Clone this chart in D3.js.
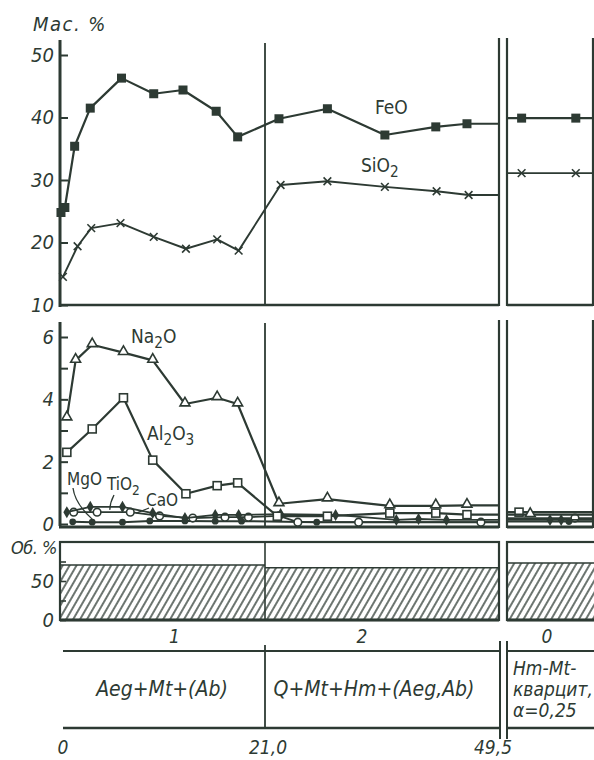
<!DOCTYPE html>
<html>
<head>
<meta charset="utf-8">
<script src="https://cdn.jsdelivr.net/npm/d3@7"></script>
<style>
  html, body { margin: 0; padding: 0; background: #ffffff; }
  svg { display: block; }
  text { font-family: "Liberation Sans Narrow", "DejaVu Sans Condensed", "Liberation Sans", sans-serif; fill: #2d3a33; }
  .it { font-style: italic; }
</style>
</head>
<body>
<script>
// ---- Zones 1–2: sample depth (m) and oxide content (mass %) ----
const feoDepth  = [0.1, 0.5, 1.5, 3.1, 6.3, 9.6, 12.6, 16.0, 18.2, 22.7, 28.6, 35.6, 41.8, 45.6];
const feoValue  = [24.8, 25.6, 35.4, 41.5, 46.3, 43.8, 44.4, 41.0, 36.9, 39.8, 41.4, 37.2, 38.5, 39.0];
const sio2Depth = [0.3, 1.8, 3.2, 6.2, 9.6, 12.9, 16.1, 18.3, 22.9, 28.6, 35.6, 41.9, 45.8];
const sio2Value = [14.5, 19.4, 22.3, 23.1, 20.9, 19.0, 20.5, 18.7, 29.2, 29.8, 28.9, 28.2, 27.6];

const na2oDepth  = [0.7, 1.6, 3.3, 6.5, 9.5, 12.8, 16.1, 18.2, 22.7, 28.6, 36.2, 41.8, 45.6];
const na2oValue  = [3.4, 5.25, 5.75, 5.5, 5.25, 3.85, 4.05, 3.85, 0.65, 0.8, 0.58, 0.58, 0.6];
const al2o3Depth = [0.7, 3.3, 6.5, 9.5, 12.9, 16.1, 18.2, 22.5, 28.6, 36.2, 41.8, 45.6];
const al2o3Value = [2.3, 3.05, 4.05, 2.05, 0.97, 1.23, 1.32, 0.25, 0.25, 0.35, 0.35, 0.3];
const tio2Depth  = [0.7, 3.1, 6.4, 9.5, 12.8, 15.9, 18.3, 22.9, 29.6, 37.0, 39.7, 43.1];
const tio2Value  = [0.38, 0.55, 0.55, 0.35, 0.19, 0.29, 0.29, 0.32, 0.29, 0.13, 0.16, 0.13];
const caoDepth   = [1.4, 3.8, 7.2, 10.2, 13.6, 16.9, 19.3, 22.7, 25.0, 32.4, 47.3];
const caoValue   = [0.38, 0.38, 0.38, 0.26, 0.19, 0.22, 0.22, 0.26, 0.06, 0.06, 0.06];
const mgoDepth   = [1.3, 3.3, 6.4, 9.2, 12.8, 15.9, 18.6, 27.3];
const mgoValue   = [0.07, 0.06, 0.06, 0.1, 0.1, 0.09, 0.09, 0.06];

// ---- Zone 0 (Hm-Mt quartzite): position along the column (0–10) ----
const feo3Pos = [1.7, 8.0],  feo3Value = [39.9, 39.9];
const sio23Pos = [1.7, 8.0], sio23Value = [31.1, 31.1];
const al2o33Pos = [1.4],      al2o33Value = [0.38];
const na2o3Pos = [2.7],       na2o3Value = [0.3];
const tio23Pos = [5.0, 6.3],  tio23Value = [0.13, 0.13];
const mgo3Pos = [7.2],        mgo3Value = [0.08];
const cao3Pos = [7.9],        cao3Value = [0.19];

// ---- Ore mineral volume share (vol. %) per zone ----
const zoneNames  = ["1", "2", "0"];
const zoneVolume = [70.5, 67, 73];
const zoneMinerals = ["Aeg+Mt+(Ab)", "Q+Mt+Hm+(Aeg,Ab)"];
const zone0Lines = ["Hm-Mt-", "кварцит,", "α=0,25"];
const depthTicks = [0, 21.0, 49.5];
const depthTickLabels = ["0", "21,0", "49,5"];

const topTicks = [10, 20, 30, 40, 50];
const midTicks = [0, 1, 2, 3, 4, 5, 6];
const barTicks = [0, 25, 50, 75];

const ink = "#2d3a33";
const W = 594, H = 760;

const svg = d3.select("body").append("svg").attr("width", W).attr("height", H);
svg.append("rect").attr("width", W).attr("height", H).attr("fill", "#ffffff");

// scales
const xDepth = d3.scaleLinear().domain([0, 21, 49.5]).range([60, 265, 499]);
const x3 = d3.scaleLinear().domain([0, 10]).range([507, 593]);
const yTop = d3.scaleLinear().domain([10, 50]).range([305, 55]);
const yMid = d3.scaleLinear().domain([0, 6]).range([524, 337]);
const yBar = d3.scaleLinear().domain([0, 100]).range([620, 542]);

const X0 = xDepth(0), X21 = xDepth(21), X49 = xDepth(49.5), X3a = x3(0), X3b = x3(10);

function vline(x, y1, y2, w) {
  svg.append("line").attr("x1", x).attr("x2", x).attr("y1", y1).attr("y2", y2)
    .attr("stroke", ink).attr("stroke-width", w || 2);
}
function hline(x1, x2, y, w) {
  svg.append("line").attr("x1", x1).attr("x2", x2).attr("y1", y).attr("y2", y)
    .attr("stroke", ink).attr("stroke-width", w || 2);
}

// ---------- axes ----------
function leftAxis(scale, ticks, fmt, top) {
  const g = svg.append("g").attr("transform", `translate(${X0},0)`)
    .call(d3.axisLeft(scale).tickValues(ticks).tickSizeInner(-8).tickSizeOuter(0).tickPadding(6).tickFormat(fmt));
  g.select(".domain").remove();
  g.selectAll(".tick line").attr("stroke", ink).attr("stroke-width", 2);
  g.selectAll(".tick text").attr("class", "it").attr("font-size", 20).attr("fill", ink)
    .attr("font-family", null);
  vline(X0, top, scale.range()[0] + 2, 3);
  return g;
}
leftAxis(yTop, topTicks, d => d, 40);
leftAxis(yMid, midTicks, d => (d % 2 === 0 ? d : ""), 322);

// top panel frame
hline(X0 - 1, X49, yTop(10), 2.6);
hline(X3a, X3b, yTop(10), 2.6);
vline(X21, 43, yTop(10), 1.8);
vline(X49, 38, yTop(10) + 1, 2.2);
vline(X3a, 38, yTop(10) + 1, 2.2);
vline(X3b, 38, yTop(10) + 1, 2.2);

// middle panel frame
hline(X0 - 1, X49, 527, 3);
hline(X3a, X3b, 527, 3);
vline(X21, 323, 527, 1.8);
vline(X49, 320, 528, 2.2);
vline(X3a, 320, 528, 2.2);
vline(X3b, 320, 528, 2.2);

// ---------- series ----------
const zip = (a, b) => a.map((d, i) => [d, b[i]]);

function series(xs, ys, xScale, yScale, marker, opts) {
  const pts = zip(xs, ys);
  let linePts;
  if (opts.zone3) linePts = [[0, ys[0]], ...pts, [10, ys[ys.length - 1]]];
  else linePts = [...pts, [49.5, ys[ys.length - 1]]];
  svg.append("path")
    .attr("d", d3.line().x(d => xScale(d[0])).y(d => yScale(d[1]))(linePts))
    .attr("fill", "none").attr("stroke", ink).attr("stroke-width", opts.lw || 2.2)
    .attr("stroke-linejoin", "round");
  const m = svg.append("g");
  pts.forEach(p => marker(m, xScale(p[0]), yScale(p[1])));
}

const mk = {
  fsq: (g, x, y) => g.append("rect").attr("x", x - 4.5).attr("y", y - 4.5).attr("width", 9).attr("height", 9)
    .attr("fill", ink),
  cross: (g, x, y) => g.append("path").attr("transform", `translate(${x},${y})`)
    .attr("d", d3.symbol().type(d3.symbolTimes).size(40)()).attr("stroke", ink).attr("stroke-width", 1.6).attr("fill", "none"),
  tri: (g, x, y) => g.append("path").attr("transform", `translate(${x},${y - 1})`)
    .attr("d", d3.symbol().type(d3.symbolTriangle2).size(70)()).attr("stroke", ink).attr("stroke-width", 1.6).attr("fill", "#fff"),
  osq: (g, x, y) => g.append("rect").attr("x", x - 4).attr("y", y - 4).attr("width", 8).attr("height", 8)
    .attr("fill", "#fff").attr("stroke", ink).attr("stroke-width", 1.6),
  dia: (g, x, y) => g.append("path").attr("transform", `translate(${x},${y})`)
    .attr("d", d3.symbol().type(d3.symbolDiamond).size(42)()).attr("fill", ink),
  ocir: (g, x, y) => g.append("circle").attr("cx", x).attr("cy", y).attr("r", 3.8)
    .attr("fill", "#fff").attr("stroke", ink).attr("stroke-width", 1.6),
  fcir: (g, x, y) => g.append("circle").attr("cx", x).attr("cy", y).attr("r", 3.4).attr("fill", ink)
};

// top panel: FeO, SiO2
series(feoDepth, feoValue, xDepth, yTop, mk.fsq, {});
series(sio2Depth, sio2Value, xDepth, yTop, mk.cross, {lw: 1.9});
series(feo3Pos, feo3Value, x3, yTop, mk.fsq, {zone3: true});
series(sio23Pos, sio23Value, x3, yTop, mk.cross, {zone3: true, lw: 1.9});

// middle panel
series(mgoDepth, mgoValue, xDepth, yMid, mk.fcir, {lw: 2});
series(caoDepth, caoValue, xDepth, yMid, mk.ocir, {lw: 1.8});
series(tio2Depth, tio2Value, xDepth, yMid, mk.dia, {lw: 1.8});
series(al2o3Depth, al2o3Value, xDepth, yMid, mk.osq, {});
series(na2oDepth, na2oValue, xDepth, yMid, mk.tri, {});
series(mgo3Pos, mgo3Value, x3, yMid, mk.fcir, {zone3: true, lw: 2});
series(cao3Pos, cao3Value, x3, yMid, mk.ocir, {zone3: true, lw: 1.8});
series(tio23Pos, tio23Value, x3, yMid, mk.dia, {zone3: true, lw: 1.8});
series(al2o33Pos, al2o33Value, x3, yMid, mk.osq, {zone3: true});
series(na2o3Pos, na2o3Value, x3, yMid, mk.tri, {zone3: true});

// chemical formula labels
function chem(x, y, parts, size) {
  const t = svg.append("text").attr("x", x).attr("y", y).attr("font-size", size || 19);
  let shift = 0;
  parts.forEach(p => {
    const sub = p.startsWith("_");
    const txt = sub ? p.slice(1) : p;
    const dy = sub ? 5 - shift : -shift;
    shift = sub ? 5 : 0;
    t.append("tspan").attr("dy", dy).attr("font-size", sub ? (size || 19) * 0.8 : null).text(txt);
  });
  return t;
}
chem(375, 114, ["FeO"]);
chem(361, 172, ["SiO", "_2"]);
chem(131, 343, ["Na", "_2", "O"]);
chem(147, 440, ["Al", "_2", "O", "_3"]);
chem(67, 485, ["MgO"], 17);
chem(107, 490, ["TiO", "_2"], 17);
chem(146, 506, ["CaO"], 17);

// leader lines from small labels to their curves
const leader = (x1, y1, x2, y2, bend) => svg.append("path")
  .attr("d", `M${x1},${y1} Q${x1 + bend},${(y1 + y2) / 2} ${x2},${y2}`)
  .attr("fill", "none").attr("stroke", ink).attr("stroke-width", 1.3);
leader(73, 488, xDepth(mgoDepth[1]), yMid(mgoValue[1]) - 3, 2);
leader(114, 495, xDepth(1.5 + 3.6), yMid(0.55) + 3, -4);
leader(149, 508, xDepth(7.2) + 6, yMid(0.38) + 1, -6);

// ---------- volume bar panel ----------
const defs = svg.append("defs");
const pat = defs.append("pattern").attr("id", "hatch").attr("patternUnits", "userSpaceOnUse")
  .attr("width", 6).attr("height", 10).attr("patternTransform", "rotate(30)");
pat.append("line").attr("x1", 1).attr("x2", 1).attr("y1", 0).attr("y2", 10)
  .attr("stroke", ink).attr("stroke-width", 1.4);

const zoneX = [[X0, X21], [X21, X49], [X3a, 600]];
zoneX.forEach((z, i) => {
  svg.append("rect").attr("x", z[0]).attr("y", yBar(zoneVolume[i]))
    .attr("width", z[1] - z[0]).attr("height", yBar(0) - yBar(zoneVolume[i]))
    .attr("fill", "url(#hatch)");
  hline(z[0], z[1], yBar(zoneVolume[i]), 1.4);
});
svg.append("rect").attr("x", X0).attr("y", yBar(100)).attr("width", X49 - X0).attr("height", yBar(0) - yBar(100))
  .attr("fill", "none").attr("stroke", ink).attr("stroke-width", 2.2);
svg.append("rect").attr("x", X3a).attr("y", yBar(100)).attr("width", 100).attr("height", yBar(0) - yBar(100))
  .attr("fill", "none").attr("stroke", ink).attr("stroke-width", 2.2);
vline(X21, yBar(100), yBar(0), 1.6);
hline(X0, X49, yBar(0), 3);
hline(X3a, 600, yBar(0), 3);

const barAxis = svg.append("g").attr("transform", `translate(${X0},0)`)
  .call(d3.axisLeft(yBar).tickValues(barTicks).tickSizeInner(-6).tickSizeOuter(0).tickPadding(6)
    .tickFormat(d => (d === 0 || d === 50 ? d : "")));
barAxis.select(".domain").remove();
barAxis.selectAll(".tick line").attr("stroke", ink).attr("stroke-width", 1.6);
barAxis.selectAll(".tick text").attr("class", "it").attr("font-size", 20).attr("fill", ink).attr("font-family", null);
svg.append("text").attr("class", "it").attr("x", 57).attr("y", 554).attr("text-anchor", "end")
  .attr("font-size", 18).attr("letter-spacing", -0.5).text("Об. %");

// zone numbers
const zoneCenter = [(X0 + X21) / 2 + 12, (X21 + X49) / 2 - 20, (X3a + 593) / 2 - 3];
zoneNames.forEach((n, i) => {
  svg.append("text").attr("class", "it").attr("x", zoneCenter[i]).attr("y", 643)
    .attr("text-anchor", "middle").attr("font-size", 19).text(n);
});

// "Мас. %" unit label
svg.append("text").attr("class", "it").attr("x", 33).attr("y", 31).attr("font-size", 20)
  .attr("letter-spacing", 1.5).text("Мас. %");

// ---------- mineral composition table ----------
hline(X0 + 3, X49, 651, 2.2);
hline(X3a, 600, 651, 2.2);
hline(X0 + 3, X49, 728, 2.6);
hline(X3a, 600, 728, 2.6);
vline(X21, 645, 728, 1.8);
vline(X49 + 1, 641, 739, 2);
vline(X3a, 641, 739, 2);

svg.append("text").attr("class", "it").attr("x", 162).attr("y", 696).attr("text-anchor", "middle")
  .attr("font-size", 21).text(zoneMinerals[0]);
svg.append("text").attr("class", "it").attr("x", 374).attr("y", 696).attr("text-anchor", "middle")
  .attr("font-size", 21).text(zoneMinerals[1]);
zone0Lines.forEach((s, i) => {
  svg.append("text").attr("class", "it").attr("x", 513).attr("y", 675 + i * 21)
    .attr("font-size", 19).text(s);
});

// depth marks below the table
depthTicks.forEach((d, i) => {
  svg.append("text").attr("class", "it").attr("x", xDepth(d) + (i === 2 ? -6 : 3)).attr("y", 754)
    .attr("text-anchor", "middle").attr("font-size", 19).text(depthTickLabels[i]);
});
</script>
</body>
</html>
